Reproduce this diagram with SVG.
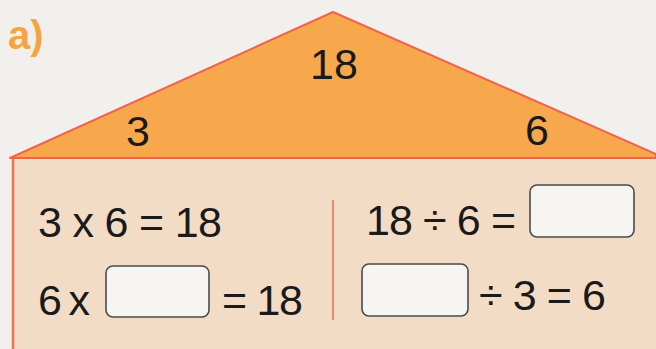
<svg xmlns="http://www.w3.org/2000/svg" width="656" height="349" viewBox="0 0 656 349">
<style>
.t{font-family:"Liberation Sans",Arial,sans-serif;font-size:43px;fill:#1a1a1a}
.box{fill:#f7f5f1;stroke:#4a4a4a;stroke-width:1.6}
</style>
<rect x="0" y="0" width="656" height="349" fill="#f1f0ec"/>
<text x="8" y="49" style="font-family:'Liberation Sans',Arial,sans-serif;font-size:40px;font-weight:bold;fill:#f6a43f">a)</text>
<g id="roof">
<polygon points="10,158 333,12 656,154 656,158" fill="#f8a84c" stroke="#f2634e" stroke-width="2" stroke-linejoin="round"/>
<text class="t" x="334" y="79" text-anchor="middle">18</text>
<text class="t" x="138" y="146" text-anchor="middle">3</text>
<text class="t" x="537" y="145" text-anchor="middle">6</text>
</g>
<g id="body">
<rect x="13" y="158" width="645" height="193" fill="#f3dcc5"/>
<line x1="13" y1="158" x2="13" y2="349" stroke="#f2734e" stroke-width="2.5"/>
<line x1="11" y1="158" x2="656" y2="158" stroke="#f2634e" stroke-width="2"/>
</g>
<g id="connectors">
<line x1="333" y1="200" x2="333" y2="320" stroke="#f06a50" stroke-width="1.5"/>
</g>
<g id="left">
<text class="t" x="38" y="237" textLength="184" lengthAdjust="spacing">3 x 6 = 18</text>
<text class="t" x="38" y="315" textLength="52" lengthAdjust="spacing">6 x</text>
<rect class="box" x="106" y="266" width="103" height="51" rx="7"/>
<text class="t" x="222" y="315" textLength="81" lengthAdjust="spacing">= 18</text>
</g>
<g id="right">
<text class="t" x="366" y="235" textLength="150" lengthAdjust="spacing">18 ÷ 6 =</text>
<rect class="box" x="530" y="185" width="104" height="52" rx="7"/>
<rect class="box" x="362" y="264" width="106" height="52" rx="7"/>
<text class="t" x="479" y="310" textLength="127" lengthAdjust="spacing">÷ 3 = 6</text>
</g>
</svg>
